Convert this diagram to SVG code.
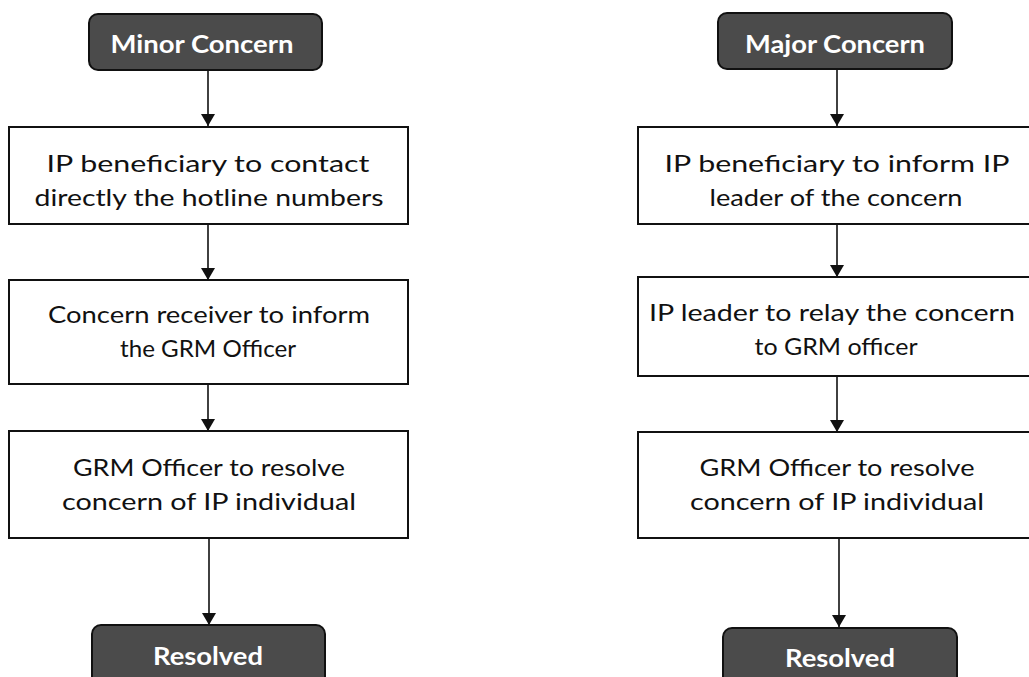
<svg xmlns="http://www.w3.org/2000/svg" width="1029" height="677" viewBox="0 0 1029 677">
  <style>
    .term { fill: #4b4b4b; stroke: #111; stroke-width: 2; }
    .step { fill: #fff; stroke: #111; stroke-width: 2; }
    .tt { font-family: Lato, "Open Sans", "Liberation Sans", sans-serif; font-weight: bold; font-size: 25px; fill: #fff; text-anchor: middle; }
    .st { font-family: Lato, "Open Sans", "Liberation Sans", sans-serif; font-size: 24px; fill: #111; text-anchor: middle; }
    .conn { stroke: #111; stroke-width: 1.6; fill: none; marker-end: url(#head); }
  </style>
  <defs>
    <marker id="head" viewBox="0 0 12 14" refX="12" refY="7" markerWidth="12" markerHeight="14" markerUnits="userSpaceOnUse" orient="auto">
      <path d="M0,0 L12,7 L0,14 Z" fill="#111"/>
    </marker>
  </defs>
  <rect width="1029" height="677" fill="#fff"/>

  <!-- connectors -->
  <g id="connectors">
    <line class="conn" x1="208" y1="70" x2="208" y2="126"/>
    <line class="conn" x1="208" y1="224" x2="208" y2="280"/>
    <line class="conn" x1="208" y1="384" x2="208" y2="431"/>
    <line class="conn" x1="209" y1="538" x2="209" y2="625"/>
    <line class="conn" x1="837" y1="69" x2="837" y2="126"/>
    <line class="conn" x1="837" y1="224" x2="837" y2="277"/>
    <line class="conn" x1="837" y1="376" x2="837" y2="432"/>
    <line class="conn" x1="839" y1="538" x2="839" y2="627"/>
  </g>

  <!-- minor concern path -->
  <g id="minor-concern">
    <rect class="term" x="89" y="14" width="233" height="56" rx="9"/>
    <text class="tt" x="202" y="53" textLength="183" lengthAdjust="spacingAndGlyphs">Minor Concern</text>
  </g>
  <g id="minor-step1">
    <rect class="step" x="9" y="127" width="399" height="97"/>
    <text class="st" x="208" y="172" textLength="323" lengthAdjust="spacingAndGlyphs">IP beneficiary to contact</text>
    <text class="st" x="209" y="206" textLength="349" lengthAdjust="spacingAndGlyphs">directly the hotline numbers</text>
  </g>
  <g id="minor-step2">
    <rect class="step" x="9" y="280" width="399" height="104"/>
    <text class="st" x="209" y="323" textLength="322" lengthAdjust="spacingAndGlyphs">Concern receiver to inform</text>
    <text class="st" x="208" y="357" textLength="176" lengthAdjust="spacingAndGlyphs">the GRM Officer</text>
  </g>
  <g id="minor-step3">
    <rect class="step" x="9" y="431" width="399" height="107"/>
    <text class="st" x="209" y="476" textLength="272" lengthAdjust="spacingAndGlyphs">GRM Officer to resolve</text>
    <text class="st" x="209" y="510" textLength="294" lengthAdjust="spacingAndGlyphs">concern of IP individual</text>
  </g>
  <g id="minor-resolved">
    <rect class="term" x="92" y="625" width="233" height="66" rx="9"/>
    <text class="tt" x="208" y="665" textLength="110" lengthAdjust="spacingAndGlyphs">Resolved</text>
  </g>

  <!-- major concern path -->
  <g id="major-concern">
    <rect class="term" x="718" y="13" width="234" height="56" rx="9"/>
    <text class="tt" x="835" y="53" textLength="180" lengthAdjust="spacingAndGlyphs">Major Concern</text>
  </g>
  <g id="major-step1">
    <rect class="step" x="638" y="127" width="398" height="97"/>
    <text class="st" x="837" y="172" textLength="345" lengthAdjust="spacingAndGlyphs">IP beneficiary to inform IP</text>
    <text class="st" x="836" y="206" textLength="253" lengthAdjust="spacingAndGlyphs">leader of the concern</text>
  </g>
  <g id="major-step2">
    <rect class="step" x="638" y="277" width="398" height="99"/>
    <text class="st" x="832" y="321" textLength="366" lengthAdjust="spacingAndGlyphs">IP leader to relay the concern</text>
    <text class="st" x="836" y="355" textLength="163" lengthAdjust="spacingAndGlyphs">to GRM officer</text>
  </g>
  <g id="major-step3">
    <rect class="step" x="638" y="432" width="398" height="106"/>
    <text class="st" x="837" y="476" textLength="275" lengthAdjust="spacingAndGlyphs">GRM Officer to resolve</text>
    <text class="st" x="837" y="510" textLength="294" lengthAdjust="spacingAndGlyphs">concern of IP individual</text>
  </g>
  <g id="major-resolved">
    <rect class="term" x="723" y="628" width="234" height="66" rx="9"/>
    <text class="tt" x="840" y="667" textLength="110" lengthAdjust="spacingAndGlyphs">Resolved</text>
  </g>
</svg>
